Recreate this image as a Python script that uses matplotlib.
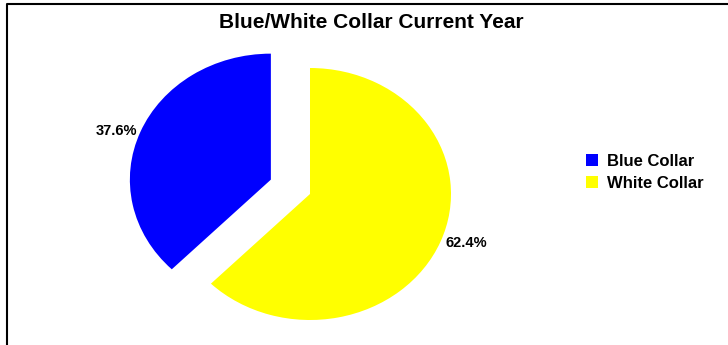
import matplotlib.pyplot as plt
from matplotlib.lines import Line2D

plt.rcParams['font.family'] = ['Liberation Sans', 'DejaVu Sans']

# data
categories = ["Blue Collar", "White Collar"]
shares = [37.6, 62.4]
colors = ["#0000ff", "#ffff00"]
explode = [0.3, 0.0]

W, H = 728, 345
fig = plt.figure(figsize=(W / 100, H / 100), dpi=100)
fig.patch.set_facecolor("white")

# pie axes: unexploded wedge centred at (310, 194) px, radii 141 x 126 px
cx, cy, rx, ry = 310, 194, 141, 126
ax = fig.add_axes([(cx - rx) / W, (H - cy - ry) / H, 2 * rx / W, 2 * ry / H])
wedges, texts, autotexts = ax.pie(
    shares, colors=colors, explode=explode, startangle=90,
    counterclock=True, autopct='%1.1f%%', pctdistance=1.18,
    textprops={'fontsize': 10.5, 'fontweight': 'bold', 'color': 'black'},
)
ax.set_aspect('auto')
ax.set_xlim(-1, 1)
ax.set_ylim(-1, 1)
ax.axis('off')
for w in wedges:
    w.set_clip_on(False)

# Excel-style label placement (in pie axes units)
label_pos = [(-1.375, 0.50), (1.11, -0.39)]
for t, (lx, ly) in zip(autotexts, label_pos):
    t.set_position((lx, ly))
    t.set_ha('center')
    t.set_va('center')

fig.text(371 / W, 1 - 23 / H, "Blue/White Collar Current Year",
         ha='center', va='center', fontsize=15, fontweight='bold')

fig.legend(wedges, categories, loc='upper left',
           bbox_to_anchor=(574 / W, 1 - 142 / H), frameon=False,
           prop={'size': 12, 'weight': 'bold'},
           handlelength=0.75, handleheight=0.75, handletextpad=0.55,
           labelspacing=0.42, borderpad=0.2)

# chart frame (only left and top edges fall inside the image)
fig.add_artist(Line2D([6.5 / W, 6.5 / W, 1.0], [0.0, 1 - 4 / H, 1 - 4 / H],
                      transform=fig.transFigure, color='black', lw=1.5))

fig.savefig("out.png", dpi=100)
